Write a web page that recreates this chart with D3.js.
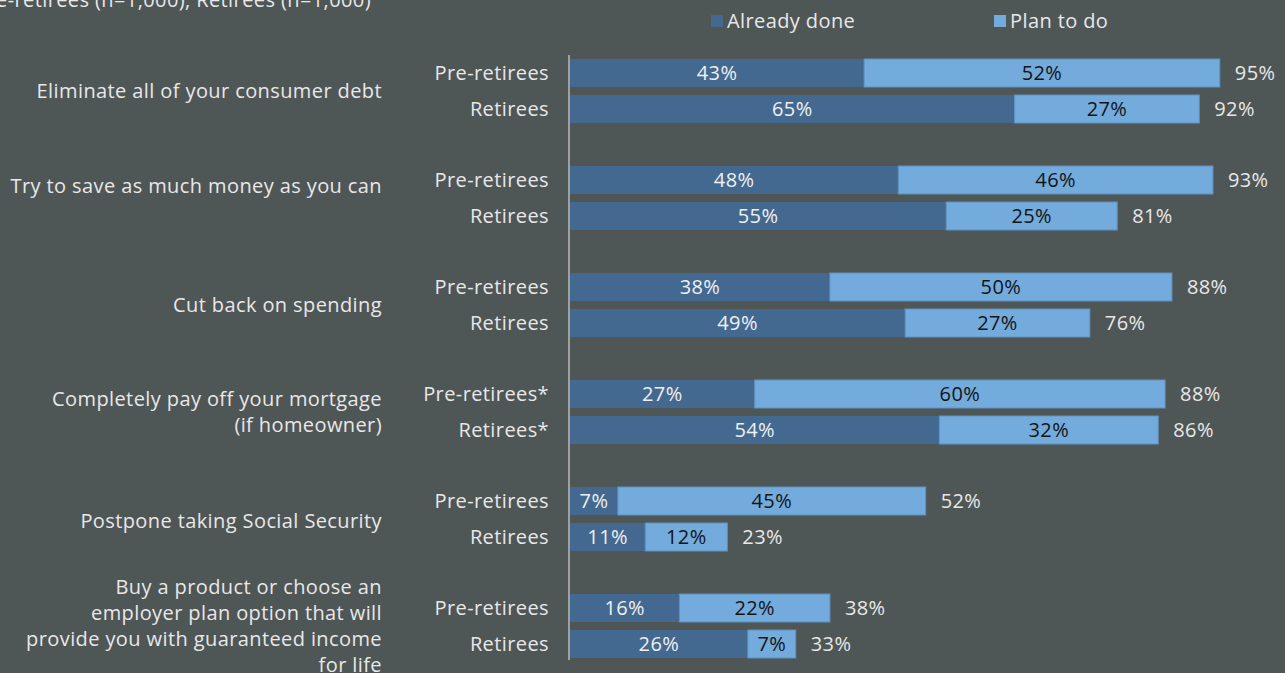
<!DOCTYPE html>
<html>
<head>
<meta charset="utf-8">
<script src="https://cdn.jsdelivr.net/npm/d3@7"></script>
<style>
  html, body { margin: 0; padding: 0; background: #4f5656; overflow: hidden; }
  svg text { font-family: "Open Sans", "Noto Sans", sans-serif; letter-spacing: 0.4px; }
</style>
</head>
<body>
<div id="chart"></div>
<script>
// Survey questions (one group each), top to bottom
var categories = [
    ["Eliminate all of your consumer debt"],
    ["Try to save as much money as you can"],
    ["Cut back on spending"],
    ["Completely pay off your mortgage", "(if homeowner)"],
    ["Postpone taking Social Security"],
    ["Buy a product or choose an", "employer plan option that will",
     "provide you with guaranteed income", "for life"]
];
var groups = ["Pre-retirees", "Retirees"];
var group_labels = [
    ["Pre-retirees", "Retirees"],
    ["Pre-retirees", "Retirees"],
    ["Pre-retirees", "Retirees"],
    ["Pre-retirees*", "Retirees*"],
    ["Pre-retirees", "Retirees"],
    ["Pre-retirees", "Retirees"]
];
// [pre-retirees, retirees] per question
var already_done = [[43, 65], [48, 55], [38, 49], [27, 54], [7, 11], [16, 26]];
var plan_to_do   = [[52, 27], [46, 25], [50, 27], [60, 32], [45, 12], [22, 7]];
var totals       = [[95, 92], [93, 81], [88, 76], [88, 86], [52, 23], [38, 33]];
var series = ["Already done", "Plan to do"];
var title = "Pre-retirees (n=1,000), Retirees (n=1,000)";

var width = 1285, height = 673;
var font_size = "20px";
var colours = d3.scaleOrdinal().domain(series).range(["#436991", "#73abdd"]);

var svg = d3.select("#chart").append("svg")
    .attr("width", width)
    .attr("height", height);

var x = d3.scaleLinear().domain([0, 100]).range([570, 1254]);
var y = d3.scaleBand()
    .domain(d3.range(categories.length))
    .range([52, 52 + 107 * categories.length]);
var y_sub = d3.scaleBand()
    .domain(groups)
    .range([7, 71])
    .paddingInner(2 - 64 / 36);
// the second question label sits a bit higher than its group centre
var label_shift = [0, -12, 0, 0, 2, 0];

// Clipped title at the top left
svg.append("text")
    .attr("x", -25)
    .attr("y", 7)
    .attr("fill", "#e8e8e8")
    .style("font-size", font_size)
    .text(title);

// Legend
var legend = svg.selectAll(".legend")
    .data(series)
    .enter().append("g")
    .attr("class", "legend")
    .attr("transform", function(d, i) { return "translate(" + (711 + i * 283) + ",15)"; });
legend.append("rect")
    .attr("width", 12)
    .attr("height", 12)
    .attr("fill", function(d) { return colours(d); });
legend.append("text")
    .attr("x", 16)
    .attr("y", 6)
    .attr("dy", "0.35em")
    .attr("fill", "#e8e8e8")
    .style("font-size", font_size)
    .text(function(d) { return d; });

// Build rows
var rows = [];
categories.forEach(function(c, i) {
    groups.forEach(function(g, j) {
        rows.push({
            cat: i, group: g, label: group_labels[i][j],
            done: already_done[i][j], plan: plan_to_do[i][j], total: totals[i][j]
        });
    });
});

var row = svg.selectAll(".row")
    .data(rows)
    .enter().append("g")
    .attr("class", "row")
    .attr("transform", function(d) { return "translate(0," + (y(d.cat) + y_sub(d.group)) + ")"; });

var bh = y_sub.bandwidth();

row.append("rect")
    .attr("x", x(0))
    .attr("width", function(d) { return x(d.done) - x(0); })
    .attr("height", bh)
    .attr("fill", colours("Already done"));
row.append("rect")
    .attr("x", function(d) { return x(d.done); })
    .attr("width", function(d) { return x(d.done + d.plan) - x(d.done); })
    .attr("height", bh)
    .attr("fill", colours("Plan to do"))
    .attr("stroke", "#5f93c4")
    .attr("stroke-width", 1);

row.append("text")
    .attr("x", function(d) { return (x(0) + x(d.done)) / 2; })
    .attr("y", bh / 2)
    .attr("dy", "0.35em")
    .attr("text-anchor", "middle")
    .attr("fill", "#f0f0f0")
    .style("font-size", font_size)
    .text(function(d) { return d.done + "%"; });
row.append("text")
    .attr("x", function(d) { return (x(d.done) + x(d.done + d.plan)) / 2; })
    .attr("y", bh / 2)
    .attr("dy", "0.35em")
    .attr("text-anchor", "middle")
    .attr("fill", "#141414")
    .style("font-size", font_size)
    .text(function(d) { return d.plan + "%"; });
row.append("text")
    .attr("x", function(d) { return x(d.done + d.plan) + 15; })
    .attr("y", bh / 2)
    .attr("dy", "0.35em")
    .attr("fill", "#e8e8e8")
    .style("font-size", font_size)
    .text(function(d) { return d.total + "%"; });
row.append("text")
    .attr("x", 549)
    .attr("y", bh / 2)
    .attr("dy", "0.35em")
    .attr("text-anchor", "end")
    .attr("fill", "#e8e8e8")
    .style("font-size", font_size)
    .text(function(d) { return d.label; });

// Question labels, centred on each group
var line_h = 26;
var cat = svg.selectAll(".cat")
    .data(categories)
    .enter().append("text")
    .attr("class", "cat")
    .attr("text-anchor", "end")
    .attr("fill", "#e8e8e8")
    .style("font-size", font_size);
cat.selectAll("tspan")
    .data(function(d, i) {
        return d.map(function(l, k) { return {line: l, k: k, n: d.length, i: i}; });
    })
    .enter().append("tspan")
    .attr("x", 382)
    .attr("y", function(d) {
        return y(d.i) + 39 + label_shift[d.i] + (d.k - (d.n - 1) / 2) * line_h;
    })
    .attr("dy", "0.35em")
    .text(function(d) { return d.line; });

// Vertical axis line
svg.append("line")
    .attr("x1", x(0) - 1)
    .attr("x2", x(0) - 1)
    .attr("y1", 55)
    .attr("y2", 660)
    .attr("stroke", "#a0a0a0")
    .attr("stroke-width", 2);
</script>
</body>
</html>
